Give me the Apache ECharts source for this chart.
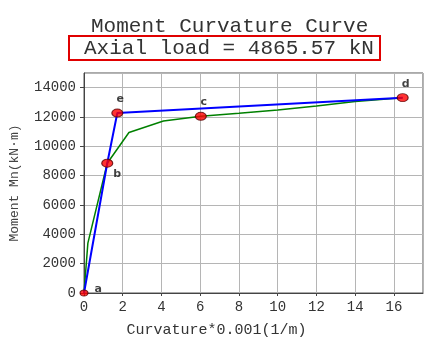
<!DOCTYPE html>
<html><head><meta charset="utf-8">
<script src="https://cdn.jsdelivr.net/npm/echarts@6/dist/echarts.min.js"></script>
<style>html,body{margin:0;padding:0;background:#fff}#c{width:433px;height:343px}</style>
</head><body><div id="c"></div>
<script>
// Data
const greenCurve = [[0,0],[0.2,3400],[1.2,8850],[2.32,10940],[4.1,11730],[6.03,12050],[8,12250],[10,12480],[12,12750],[14,13050],[16.45,13320]];
const blueBilinear = [[0,0],[1.2,8850],[1.72,12270],[16.45,13320]];
const keyPoints = [[0,0],[1.2,8850],[1.72,12270],[6.03,12050],[16.45,13320]];
const keyLabels = ['a','b','e','c','d'];
const xTicks = [0,2,4,6,8,10,12,14,16];
const yTicks = [0,2000,4000,6000,8000,10000,12000,14000];

const labelPos = {a:'right', b:'bottom', c:'top', d:'top', e:'top'};
const mono = '"Liberation Mono", "DejaVu Sans Mono", monospace';

const chart = echarts.init(document.getElementById('c'));
chart.setOption({
  animation:false,
  backgroundColor:'#fff',
  title:[
    {text:'Moment Curvature Curve', left:91, top:16, padding:0,
     textStyle:{fontFamily:mono, fontSize:21, fontWeight:'normal', color:'#333'}},
    {text:'Axial load = 4865.57 kN', left:69, top:36, padding:[1,6,1,15],
     borderColor:'#e00000', borderWidth:2,
     textStyle:{fontFamily:mono, fontSize:21, fontWeight:'normal', color:'#333', lineHeight:22}}
  ],
  grid:{left:81, right:10, top:73, bottom:50, show:true, borderColor:'#555', borderWidth:1},
  xAxis:{type:'value', min:0, max:17.5, interval:2,
    name:'Curvature*0.001(1/m)', nameLocation:'middle', nameGap:30,
    nameTextStyle:{fontFamily:mono, fontSize:15, color:'#333', padding:[0,74,0,0]},
    axisLine:{lineStyle:{color:'#444'}},
    axisTick:{show:true, length:3, lineStyle:{color:'#444'}},
    axisLabel:{fontFamily:mono, fontSize:14, color:'#333', margin:7, showMaxLabel:false,
      formatter:v=> xTicks.includes(v)? String(v):''},
    splitLine:{lineStyle:{color:'#b5b5b5'}}},
  yAxis:{type:'value', min:0, max:15000, interval:2000,
    name:'Moment Mn(kN·m)', nameLocation:'middle', nameGap:63,
    nameTextStyle:{fontFamily:mono, fontSize:13, color:'#444'},
    axisLine:{show:true, lineStyle:{color:'#444'}},
    axisTick:{show:true, length:4, lineStyle:{color:'#444'}},
    axisLabel:{fontFamily:mono, fontSize:14, color:'#333', margin:8, showMaxLabel:false,
      formatter:v=> yTicks.includes(v)? String(v):''},
    splitLine:{lineStyle:{color:'#b5b5b5'}}},
  series:[
    {type:'line', data:greenCurve, showSymbol:false, symbol:'none',
     lineStyle:{color:'#008000', width:1.5}, z:2},
    {type:'line', data:blueBilinear, showSymbol:false, symbol:'none',
     lineStyle:{color:'#0000ff', width:2}, z:3},
    {type:'scatter', data:keyPoints.map((p,i)=>({value:p, name:keyLabels[i],
        symbolSize: i===0?[8,6]:[11,8],
        label:{show:true, position:labelPos[keyLabels[i]], formatter:keyLabels[i],
          offset: keyLabels[i]==='a'?[2,-4]: keyLabels[i]==='b'?[10,-3]:[3,0]}})),
     symbol:'circle', clip:true,
     itemStyle:{color:'#ff0000', borderColor:'#500', borderWidth:1},
     label:{fontFamily:'"DejaVu Sans", sans-serif', fontWeight:'bold', fontSize:11, color:'#111', distance:4},
     z:4}
  ]
});
</script></body></html>
